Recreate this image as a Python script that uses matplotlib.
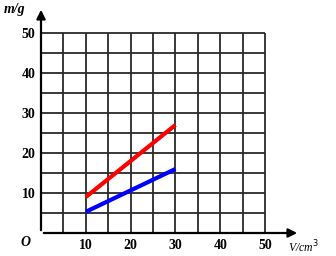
import matplotlib
matplotlib.use('Agg')
import matplotlib.pyplot as plt

# data
volume = [10, 30]
red_mass = [9, 27]
blue_mass = [5.3, 16]
x_ticks = [10, 20, 30, 40, 50]
y_ticks = [10, 20, 30, 40, 50]
grid_steps = [0, 5, 10, 15, 20, 25, 30, 35, 40, 45, 50]

fig = plt.figure(figsize=(3.36, 2.56), dpi=100)
ax = fig.add_axes([41 / 336, 23 / 256, 259 / 336, 228 / 256])
ax.set_xlim(0, 57.8)
ax.set_ylim(0, 57)
for s in ax.spines.values():
    s.set_visible(False)

# grid
grid_color = '#2a2a2a'
ax.vlines(grid_steps[1:], 0, 50, color=grid_color, lw=1.3)
ax.hlines(grid_steps[1:], 0, 50, color=grid_color, lw=1.3)

# axes with arrows
ax.annotate('', xy=(57.8, 0), xytext=(0, 0), annotation_clip=False,
            arrowprops=dict(arrowstyle='-|>', color='black', lw=1.6, mutation_scale=13))
ax.annotate('', xy=(0, 56.5), xytext=(0, 0), annotation_clip=False,
            arrowprops=dict(arrowstyle='-|>', color='black', lw=1.6, mutation_scale=13))

ax.plot(volume, red_mass, color='#ff0000', lw=3, solid_capstyle='butt')
ax.plot(volume, blue_mass, color='#0000ff', lw=3, solid_capstyle='butt')

ax.set_xticks(x_ticks)
ax.set_yticks(y_ticks)
ax.tick_params(length=0, labelsize=10, pad=4)
for lab in ax.get_xticklabels() + ax.get_yticklabels():
    lab.set_fontfamily('Liberation Serif')
    lab.set_fontweight('bold')

ax.text(-3.4, -2.3, 'O', fontsize=10, fontstyle='italic', fontfamily='Liberation Serif',
        fontweight='bold', ha='center', va='center')
ax.text(-8.3, 55.8, 'm/g', fontsize=10, fontstyle='italic', fontfamily='Liberation Serif',
        fontweight='bold', ha='left', va='center')
ax.text(55.1, -3.6, 'V/cm$^3$', fontsize=8.5, fontstyle='italic', fontfamily='Liberation Serif',
        ha='left', va='center')

fig.savefig('out.png', dpi=100)
